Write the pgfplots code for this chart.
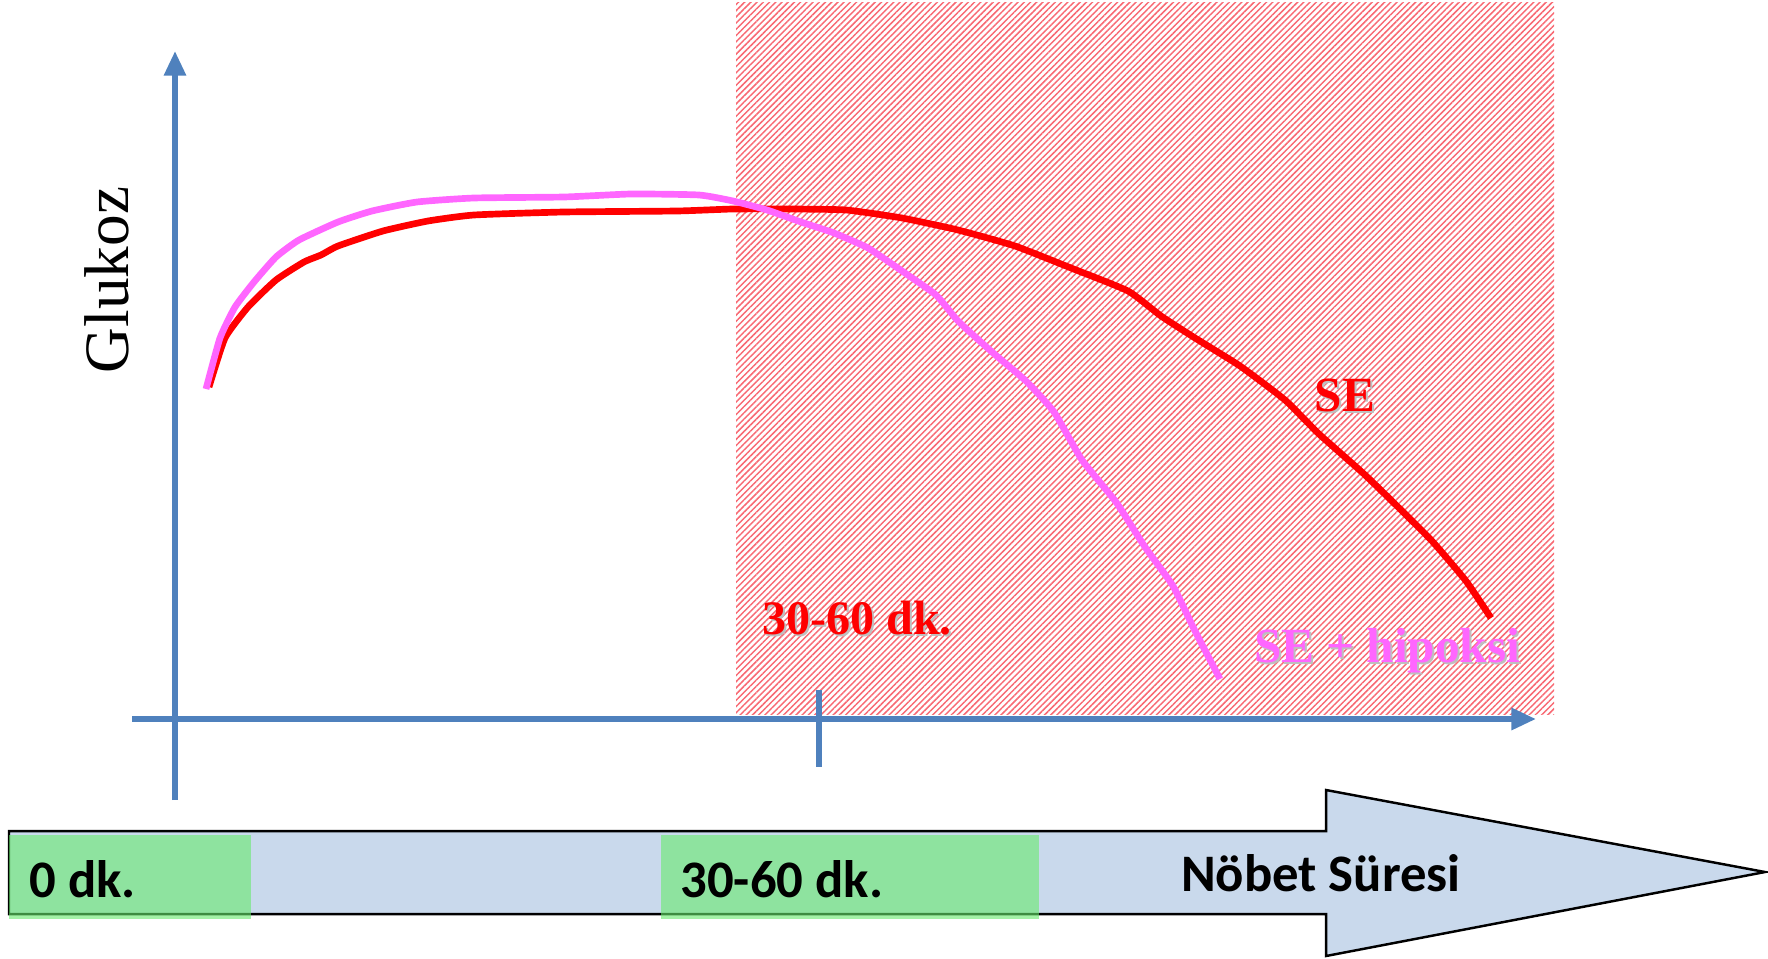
\documentclass[border=0pt]{standalone}
\usepackage{pgfplots}
\pgfplotsset{compat=1.18}
\usepackage{fontspec}
\setmainfont{Liberation Serif}
\newfontfamily\carlito{Carlito}
\usetikzlibrary{patterns.meta,arrows.meta}
\definecolor{axblue}{HTML}{4F81BD}
\definecolor{sered}{HTML}{FF0000}
\definecolor{sepink}{HTML}{FF66FF}
\definecolor{hatch}{RGB}{248,105,115}
\definecolor{barblue}{HTML}{C9D9EC}
\definecolor{bargreen}{RGB}{104,234,109}
\begin{document}
\begin{tikzpicture}
\begin{axis}[
  width=17.68cm, height=9.58cm, scale only axis,
  xmin=0, xmax=1768, ymin=0, ymax=958, y dir=reverse,
  hide axis, clip=false,
]
% page frame
\draw[draw=none] (axis cs:0,0) rectangle (axis cs:1768,958);
% hatched region
\fill[pattern={Lines[angle=45,distance=1.25pt,line width=0.42pt]}, pattern color=hatch] (axis cs:736,3) rectangle (axis cs:1554,714);
% axes
\draw[axblue, line width=1.6pt, -{Triangle[length=7pt,width=6pt]}] (axis cs:175,800) -- (axis cs:175,51);
\draw[axblue, line width=1.6pt, -{Triangle[length=7pt,width=6pt]}] (axis cs:132,719) -- (axis cs:1536,719);
\draw[axblue, line width=1.6pt] (axis cs:819,690) -- (axis cs:819,767);
\node[rotate=90, font=\fontsize{18}{20}\selectfont] at (axis cs:107,280) {Glukoz};
% SE curve
\addplot[sered, line width=1.9pt, line join=round, smooth, tension=0.3] coordinates {
(209,387) (225,338) (248,307) (276,280) (304,262) (321,255) (338,246) (383,231)
(428,221) (474,215) (564,212) (677,211) (733,209) (789,209) (846,210) (902,218)
(958,230) (1015,246) (1071,268) (1128,291) (1161,316) (1195,338) (1240,366)
(1285,400) (1319,434) (1364,474) (1398,507) (1432,541) (1466,581) (1491,618)
};
% SE + hipoksi curve
\addplot[sepink, line width=1.9pt, line join=round, smooth, tension=0.3] coordinates {
(206,389) (220,338) (235,307) (254,282) (276,257) (299,240) (338,222) (372,211)
(417,202) (474,198) (564,197) (631,194) (699,195) (733,201) (767,210) (801,222)
(834,233) (868,248) (902,271) (936,295) (958,321) (992,352) (1026,381) (1054,412)
(1082,460) (1116,502) (1145,547) (1173,586) (1195,631) (1220,679)
};
\node[text=black!25, font=\fontsize{14}{16}\selectfont\bfseries] at (axis cs:1347,397) {SE};
\node[text=sered, font=\fontsize{14}{16}\selectfont\bfseries] at (axis cs:1345,395) {SE};
\node[text=black!25, font=\fontsize{14}{16}\selectfont\bfseries] at (axis cs:1389,653) {SE + hipoksi};
\node[text=sepink, font=\fontsize{14}{16}\selectfont\bfseries] at (axis cs:1387,651) {SE + hipoksi};
\node[text=black!25, font=\fontsize{13.7}{16}\selectfont\bfseries] at (axis cs:859,620) {30-60 dk.};
\node[text=sered, font=\fontsize{13.7}{16}\selectfont\bfseries] at (axis cs:857,618) {30-60 dk.};
% timeline arrow
\filldraw[fill=barblue, draw=black, line width=0.7pt, line join=miter]
  (axis cs:9,831) -- (axis cs:1326,831) -- (axis cs:1326,790) -- (axis cs:1765,872)
  -- (axis cs:1326,956) -- (axis cs:1326,914) -- (axis cs:9,914) -- cycle;
\fill[bargreen, opacity=0.6] (axis cs:9,835) rectangle (axis cs:251,919);
\fill[bargreen, opacity=0.6] (axis cs:661,835) rectangle (axis cs:1039,919);
\node[anchor=west, font=\carlito\fontsize{15}{18}\selectfont\bfseries] at (axis cs:17,879) {0 dk.};
\node[anchor=west, font=\carlito\fontsize{15}{18}\selectfont\bfseries] at (axis cs:668,879) {30-60 dk.};
\node[font=\carlito\fontsize{15}{18}\selectfont\bfseries] at (axis cs:1321,873) {Nöbet Süresi};
\end{axis}
\end{tikzpicture}
\end{document}
